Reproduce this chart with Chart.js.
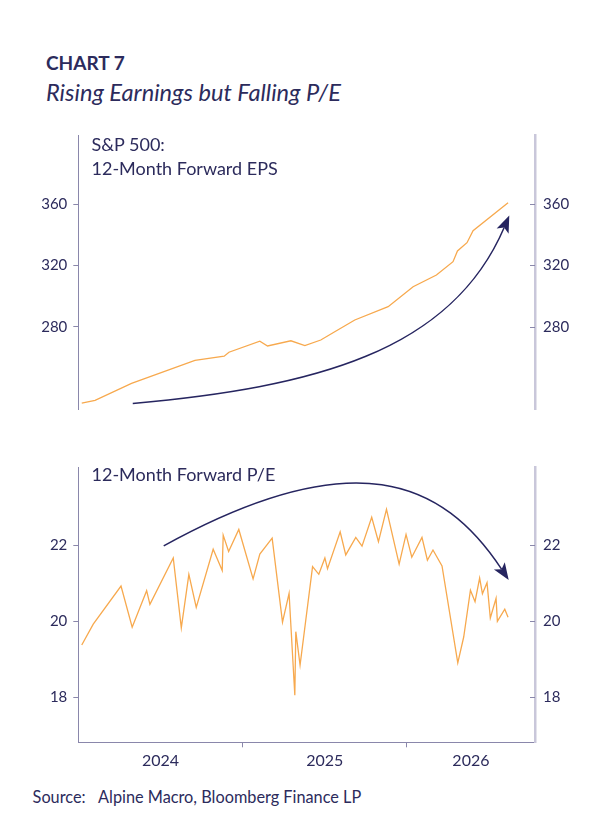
<!DOCTYPE html>
<html><head><meta charset="utf-8">
<script src="https://cdn.jsdelivr.net/npm/chart.js@4.4.1/dist/chart.umd.min.js"></script>
<style>
html,body{margin:0;padding:0;background:#fff;}
body{width:616px;height:838px;position:relative;overflow:hidden;font-family:Lato,"Noto Sans",sans-serif;color:#2c2b5c;}
.t{position:absolute;white-space:nowrap;line-height:1;}
#c1wrap{position:absolute;left:0;top:120px;width:616px;height:300px;}
#c2wrap{position:absolute;left:0;top:455px;width:616px;height:330px;}
</style></head><body>
<div class="t" style="left:46px;top:52.8px;font-size:19px;font-weight:700;">CHART 7</div>
<div class="t" style="left:46px;top:81.3px;font-size:23.6px;font-style:italic;">Rising Earnings but Falling P/E</div>
<div id="c1wrap"><canvas id="c1"></canvas></div>
<div id="c2wrap"><canvas id="c2"></canvas></div>
<div class="t" style="left:91.5px;top:135px;font-size:18px;">S&amp;P 500:</div>
<div class="t" style="left:91.5px;top:159.3px;font-size:18px;">12-Month Forward EPS</div>
<div class="t" style="left:91.5px;top:465px;font-size:18px;">12-Month Forward P/E</div>
<div class="t" style="left:32.6px;top:789.2px;font-size:16.3px;">Source:<span style="margin-left:12.5px">Alpine Macro, Bloomberg Finance LP</span></div>
<script>
// ---- data (x in decimal years) ----
const epsDates  = [2024.021, 2024.102, 2024.324, 2024.710, 2024.888, 2024.917, 2025.105, 2025.152, 2025.294, 2025.379, 2025.476, 2025.561, 2025.683, 2025.886, 2026.038, 2026.180, 2026.281, 2026.308, 2026.366, 2026.403, 2026.616];
const epsValues = [230.1, 231.9, 243.0, 258.0, 260.7, 263.3, 270.5, 267.4, 270.8, 267.6, 271.3, 276.7, 284.4, 293.1, 306.1, 313.8, 322.5, 329.5, 334.9, 342.7, 361.0];

const peDates = [2024.021, 2024.091, 2024.260, 2024.328, 2024.416, 2024.436, 2024.578, 2024.627, 2024.673, 2024.718,
  2024.821, 2024.876, 2024.882, 2024.915, 2024.977, 2025.064, 2025.105, 2025.180, 2025.243, 2025.283,
  2025.318, 2025.324, 2025.350, 2025.426, 2025.464, 2025.501, 2025.517, 2025.594, 2025.628, 2025.689,
  2025.727, 2025.786, 2025.827, 2025.876, 2025.953, 2025.995, 2026.030, 2026.092, 2026.125, 2026.159,
  2026.214, 2026.310, 2026.346, 2026.387, 2026.415, 2026.443, 2026.460, 2026.488, 2026.508, 2026.543,
  2026.551, 2026.596, 2026.616];
const peValues = [19.38, 19.93, 20.93, 19.85, 20.81, 20.45, 21.67, 19.83, 21.24, 20.37,
  21.90, 21.34, 22.27, 21.84, 22.42, 21.12, 21.77, 22.19, 19.98, 20.74,
  18.06, 19.73, 18.85, 21.44, 21.24, 21.67, 21.39, 22.36, 21.75, 22.21,
  21.98, 22.74, 22.10, 22.95, 21.51, 22.29, 21.69, 22.21, 21.61, 21.88,
  21.46, 18.91, 19.59, 20.82, 20.52, 21.14, 20.73, 21.02, 20.09, 20.61,
  20.00, 20.32, 20.11];

const years = [2024, 2025, 2026];
const epsTicks = [280, 320, 360];
const peTicks = [18, 20, 22];

// annotation arrows (cubic bezier, data units)
const epsArrow = [[2024.3315, 229.8], [2025.4264, 240.4], [2026.267, 263.1], [2026.6235, 352.7]];
const peArrow  = [[2024.520, 21.99], [2025.676, 24.75], [2026.218, 23.72], [2026.620, 21.09]];

// ---- styling ----
const X_MIN = 2024.0, X_MAX = 2026.78;
const NAVY = '#2c2b5c', AXIS = '#8a87ab', RAXIS = '#c9c7da', ORANGE = '#f7a94e', ARROW = '#262560';
Chart.defaults.font.family = 'Lato, "Noto Sans", sans-serif';
Chart.defaults.color = NAVY;

const decor = {
  id: 'decor',
  afterDatasetsDraw(chart, args, opts) {
    const {ctx} = chart;
    const x = chart.scales.x, y = chart.scales.y, yr = chart.scales.yr;
    ctx.save();
    // inward ticks on right axis
    ctx.strokeStyle = AXIS; ctx.lineWidth = 1;
    yr.ticks.forEach(t => {
      const py = Math.round(yr.getPixelForValue(t.value)) + 0.5;
      ctx.beginPath(); ctx.moveTo(yr.left - 5, py); ctx.lineTo(yr.left, py); ctx.stroke();
    });
    // arrow
    const p = opts.arrow.map(a => [x.getPixelForValue(a[0]), y.getPixelForValue(a[1])]);
    const dx = p[3][0] - p[2][0], dy = p[3][1] - p[2][1];
    const len = Math.hypot(dx, dy), ux = dx / len, uy = dy / len, nx = -uy, ny = ux;
    const L = 17, W = 6.5, N = 4;
    const tip = p[3];
    const notch = [tip[0] - (L - N) * ux, tip[1] - (L - N) * uy];
    ctx.strokeStyle = ARROW; ctx.lineWidth = 1.5;
    ctx.beginPath();
    ctx.moveTo(p[0][0], p[0][1]);
    ctx.bezierCurveTo(p[1][0], p[1][1], p[2][0], p[2][1], notch[0], notch[1]);
    ctx.stroke();
    ctx.fillStyle = ARROW;
    ctx.beginPath();
    ctx.moveTo(tip[0], tip[1]);
    ctx.lineTo(tip[0] - L * ux + W * nx, tip[1] - L * uy + W * ny);
    ctx.lineTo(notch[0], notch[1]);
    ctx.lineTo(tip[0] - L * ux - W * nx, tip[1] - L * uy - W * ny);
    ctx.closePath(); ctx.fill();
    ctx.restore();
  }
};

function noPad(s) { s.paddingTop = 0; s.paddingBottom = 0; s.paddingLeft = 0; s.paddingRight = 0; }

function leftAxis(min, max, ticks) {
  return {
    position: 'left', min, max,
    afterFit(s) { s.width = 78.3; noPad(s); },
    afterBuildTicks(s) { s.ticks = ticks.map(v => ({value: v})); },
    grid: {drawOnChartArea: false, drawTicks: true, tickLength: 5, color: AXIS, tickColor: AXIS},
    border: {display: true, color: AXIS, width: 1},
    ticks: {font: {size: 15}, color: NAVY, padding: 6}
  };
}
function rightAxis(min, max, ticks) {
  return {
    position: 'right', min, max,
    afterFit(s) { s.width = 81; noPad(s); },
    afterBuildTicks(s) { s.ticks = ticks.map(v => ({value: v})); },
    grid: {drawOnChartArea: false, drawTicks: false},
    border: {display: true, color: RAXIS, width: 2.5},
    ticks: {font: {size: 15}, color: NAVY, padding: 8}
  };
}

// top chart
new Chart(document.getElementById('c1'), {
  type: 'line',
  data: {datasets: [{data: epsDates.map((d, i) => ({x: d, y: epsValues[i]})), borderColor: ORANGE, borderWidth: 1.3, pointRadius: 0, tension: 0, yAxisID: 'y'}]},
  options: {
    responsive: true, maintainAspectRatio: false, animation: false,
    layout: {padding: {top: 15, bottom: 11, left: 0, right: 0}},
    plugins: {legend: {display: false}, tooltip: {enabled: false}, decor: {arrow: epsArrow}},
    scales: {
      x: {type: 'linear', min: X_MIN, max: X_MAX, display: false},
      y: leftAxis(226.2, 405.3, epsTicks),
      yr: rightAxis(226.2, 405.3, epsTicks)
    }
  },
  plugins: [decor]
});

// bottom chart x ticks: year labels centred on visible span, tick marks at year boundaries
const xTickVals = [], xTickLabels = [], xTickMark = [];
years.forEach((yv, i) => {
  if (i > 0) { xTickVals.push(yv); xTickLabels.push(''); xTickMark.push(true); }
  const a = Math.max(yv, X_MIN), b = Math.min(yv + 1, X_MAX);
  xTickVals.push((a + b) / 2); xTickLabels.push(String(yv)); xTickMark.push(false);
});

new Chart(document.getElementById('c2'), {
  type: 'line',
  data: {datasets: [{data: peDates.map((d, i) => ({x: d, y: peValues[i]})), borderColor: ORANGE, borderWidth: 1.3, pointRadius: 0, tension: 0, yAxisID: 'y'}]},
  options: {
    responsive: true, maintainAspectRatio: false, animation: false,
    layout: {padding: {top: 12.5, bottom: 0, left: 0, right: 0}},
    plugins: {legend: {display: false}, tooltip: {enabled: false}, decor: {arrow: peArrow}},
    scales: {
      x: {
        type: 'linear', min: X_MIN, max: X_MAX, position: 'bottom',
        afterFit(s) { s.height = 42.7; noPad(s); },
        afterBuildTicks(s) { s.ticks = xTickVals.map(v => ({value: v})); },
        grid: {drawOnChartArea: false, drawTicks: true, tickLength: 5,
               tickColor: c => (xTickMark[c.index] ? AXIS : 'rgba(0,0,0,0)'), color: AXIS},
        border: {display: true, color: AXIS, width: 1},
        ticks: {autoSkip: false, maxRotation: 0, font: {size: 16}, color: NAVY, padding: 4,
                callback: (v, i) => xTickLabels[i]}
      },
      y: leftAxis(16.82, 24.05, peTicks),
      yr: rightAxis(16.82, 24.05, peTicks)
    }
  },
  plugins: [decor]
});
</script>
</body></html>
